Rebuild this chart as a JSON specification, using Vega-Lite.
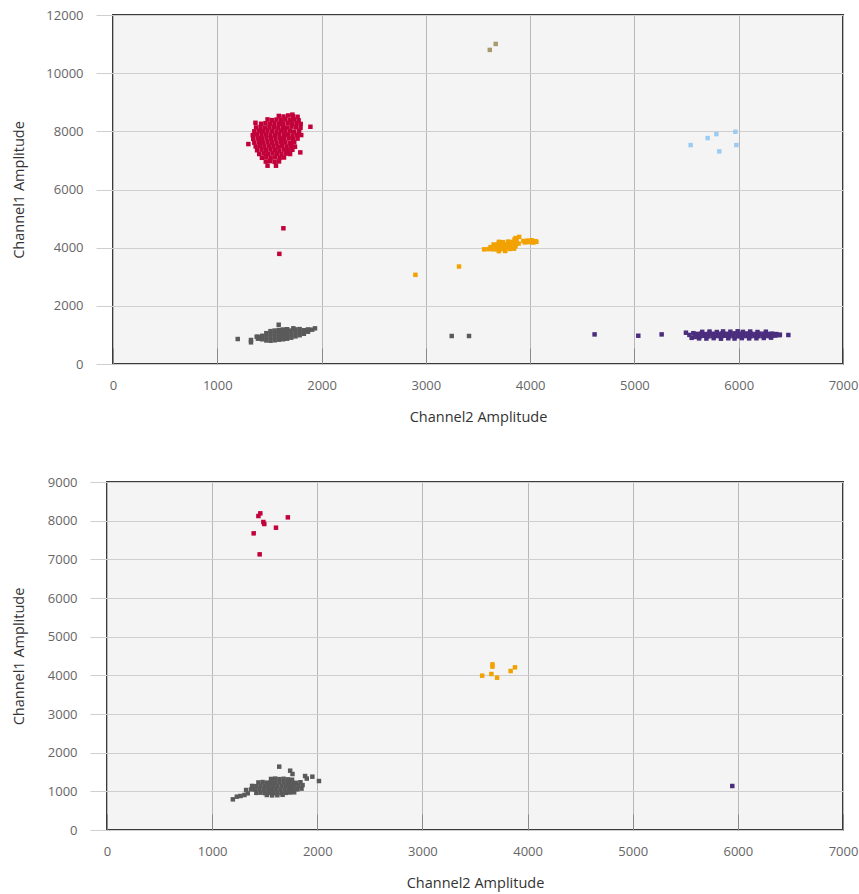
{
"$schema": "https://vega.github.io/schema/vega-lite/v6.json",
"background": "white",
"padding": {"left": 9, "top": 8, "right": 0, "bottom": 2},
"config": {
  "view": {"fill": "#f4f4f4", "stroke": "#3a3a3a", "strokeWidth": 2},
  "axis": {"labelFont": "Open Sans", "titleFont": "Open Sans", "labelFontSize": 13, "titleFontSize": 14.5, "labelColor": "#666666", "titleColor": "#333333", "titleFontWeight": "normal", "gridWidth": 1, "labelFlush": false, "labelOverlap": false, "domain": false, "format": "d"}
},
"datasets": {
"top": [
{"x":1590,"y":8530,"c":"red"},{"x":1635,"y":8510,"c":"red"},{"x":1680,"y":8545,"c":"red"},{"x":1725,"y":8520,"c":"red"},{"x":1770,"y":8500,"c":"red"},
{"x":1482,"y":8410,"c":"red"},{"x":1525,"y":8385,"c":"red"},{"x":1568,"y":8405,"c":"red"},{"x":1610,"y":8395,"c":"red"},{"x":1652,"y":8415,"c":"red"},{"x":1695,"y":8390,"c":"red"},{"x":1738,"y":8405,"c":"red"},{"x":1780,"y":8380,"c":"red"},
{"x":1420,"y":8260,"c":"red"},{"x":1462,"y":8280,"c":"red"},{"x":1505,"y":8265,"c":"red"},{"x":1548,"y":8285,"c":"red"},{"x":1590,"y":8260,"c":"red"},{"x":1632,"y":8275,"c":"red"},{"x":1675,"y":8290,"c":"red"},{"x":1718,"y":8265,"c":"red"},{"x":1760,"y":8280,"c":"red"},{"x":1800,"y":8255,"c":"red"},
{"x":1372,"y":8135,"c":"red"},{"x":1415,"y":8150,"c":"red"},{"x":1458,"y":8130,"c":"red"},{"x":1500,"y":8155,"c":"red"},{"x":1542,"y":8140,"c":"red"},{"x":1585,"y":8125,"c":"red"},{"x":1628,"y":8150,"c":"red"},{"x":1670,"y":8135,"c":"red"},{"x":1712,"y":8160,"c":"red"},{"x":1755,"y":8140,"c":"red"},{"x":1798,"y":8120,"c":"red"},
{"x":1355,"y":8000,"c":"red"},{"x":1398,"y":8020,"c":"red"},{"x":1440,"y":8005,"c":"red"},{"x":1482,"y":8025,"c":"red"},{"x":1525,"y":8010,"c":"red"},{"x":1568,"y":7995,"c":"red"},{"x":1610,"y":8020,"c":"red"},{"x":1652,"y":8005,"c":"red"},{"x":1695,"y":8015,"c":"red"},{"x":1738,"y":7990,"c":"red"},{"x":1785,"y":8010,"c":"red"},
{"x":1340,"y":7870,"c":"red"},{"x":1383,"y":7890,"c":"red"},{"x":1425,"y":7875,"c":"red"},{"x":1468,"y":7895,"c":"red"},{"x":1510,"y":7880,"c":"red"},{"x":1552,"y":7865,"c":"red"},{"x":1595,"y":7890,"c":"red"},{"x":1638,"y":7875,"c":"red"},{"x":1680,"y":7885,"c":"red"},{"x":1722,"y":7860,"c":"red"},{"x":1765,"y":7880,"c":"red"},{"x":1805,"y":7870,"c":"red"},
{"x":1345,"y":7740,"c":"red"},{"x":1388,"y":7760,"c":"red"},{"x":1430,"y":7745,"c":"red"},{"x":1472,"y":7765,"c":"red"},{"x":1515,"y":7750,"c":"red"},{"x":1558,"y":7735,"c":"red"},{"x":1600,"y":7760,"c":"red"},{"x":1642,"y":7745,"c":"red"},{"x":1685,"y":7755,"c":"red"},{"x":1728,"y":7730,"c":"red"},{"x":1770,"y":7750,"c":"red"},
{"x":1355,"y":7610,"c":"red"},{"x":1398,"y":7630,"c":"red"},{"x":1440,"y":7615,"c":"red"},{"x":1482,"y":7635,"c":"red"},{"x":1525,"y":7620,"c":"red"},{"x":1568,"y":7605,"c":"red"},{"x":1610,"y":7630,"c":"red"},{"x":1652,"y":7615,"c":"red"},{"x":1695,"y":7600,"c":"red"},{"x":1738,"y":7620,"c":"red"},
{"x":1368,"y":7480,"c":"red"},{"x":1410,"y":7500,"c":"red"},{"x":1452,"y":7485,"c":"red"},{"x":1495,"y":7505,"c":"red"},{"x":1538,"y":7490,"c":"red"},{"x":1580,"y":7475,"c":"red"},{"x":1622,"y":7500,"c":"red"},{"x":1665,"y":7480,"c":"red"},{"x":1708,"y":7495,"c":"red"},{"x":1745,"y":7470,"c":"red"},
{"x":1382,"y":7350,"c":"red"},{"x":1425,"y":7370,"c":"red"},{"x":1468,"y":7355,"c":"red"},{"x":1510,"y":7375,"c":"red"},{"x":1552,"y":7360,"c":"red"},{"x":1595,"y":7345,"c":"red"},{"x":1638,"y":7370,"c":"red"},{"x":1680,"y":7350,"c":"red"},{"x":1720,"y":7365,"c":"red"},
{"x":1402,"y":7220,"c":"red"},{"x":1445,"y":7240,"c":"red"},{"x":1488,"y":7225,"c":"red"},{"x":1530,"y":7245,"c":"red"},{"x":1572,"y":7230,"c":"red"},{"x":1615,"y":7215,"c":"red"},{"x":1658,"y":7235,"c":"red"},{"x":1698,"y":7220,"c":"red"},
{"x":1428,"y":7090,"c":"red"},{"x":1470,"y":7110,"c":"red"},{"x":1512,"y":7095,"c":"red"},{"x":1555,"y":7105,"c":"red"},{"x":1598,"y":7085,"c":"red"},{"x":1640,"y":7100,"c":"red"},
{"x":1465,"y":6960,"c":"red"},{"x":1508,"y":6975,"c":"red"},{"x":1550,"y":6950,"c":"red"},{"x":1592,"y":6965,"c":"red"},
{"x":1482,"y":6818,"c":"red"},{"x":1563,"y":6818,"c":"red"},{"x":1796,"y":7276,"c":"red"},{"x":1893,"y":8157,"c":"red"},{"x":1298,"y":7562,"c":"red"},{"x":1366,"y":8294,"c":"red"},{"x":1720,"y":8575,"c":"red"},
{"x":1634,"y":4667,"c":"red"},{"x":1595,"y":3787,"c":"red"},
{"x":1390,"y":870,"c":"gray"},{"x":1390,"y":930,"c":"gray"},
{"x":1430,"y":850,"c":"gray"},{"x":1430,"y":970,"c":"gray"},
{"x":1470,"y":810,"c":"gray"},{"x":1470,"y":935,"c":"gray"},{"x":1470,"y":1060,"c":"gray"},
{"x":1510,"y":800,"c":"gray"},{"x":1510,"y":925,"c":"gray"},{"x":1510,"y":1050,"c":"gray"},{"x":1510,"y":1130,"c":"gray"},
{"x":1550,"y":815,"c":"gray"},{"x":1550,"y":940,"c":"gray"},{"x":1550,"y":1065,"c":"gray"},{"x":1550,"y":1150,"c":"gray"},
{"x":1590,"y":835,"c":"gray"},{"x":1590,"y":960,"c":"gray"},{"x":1590,"y":1085,"c":"gray"},{"x":1590,"y":1170,"c":"gray"},
{"x":1630,"y":850,"c":"gray"},{"x":1630,"y":975,"c":"gray"},{"x":1630,"y":1100,"c":"gray"},{"x":1630,"y":1185,"c":"gray"},
{"x":1670,"y":870,"c":"gray"},{"x":1670,"y":995,"c":"gray"},{"x":1670,"y":1120,"c":"gray"},{"x":1670,"y":1195,"c":"gray"},
{"x":1710,"y":905,"c":"gray"},{"x":1710,"y":1030,"c":"gray"},{"x":1710,"y":1150,"c":"gray"},
{"x":1750,"y":950,"c":"gray"},{"x":1750,"y":1075,"c":"gray"},{"x":1750,"y":1190,"c":"gray"},
{"x":1790,"y":990,"c":"gray"},{"x":1790,"y":1110,"c":"gray"},{"x":1790,"y":1200,"c":"gray"},
{"x":1830,"y":1040,"c":"gray"},{"x":1830,"y":1160,"c":"gray"},
{"x":1870,"y":1110,"c":"gray"},{"x":1870,"y":1190,"c":"gray"},
{"x":1589,"y":1350,"c":"gray"},{"x":1196,"y":859,"c":"gray"},{"x":1323,"y":825,"c":"gray"},{"x":1323,"y":745,"c":"gray"},{"x":1729,"y":1227,"c":"gray"},{"x":1910,"y":1180,"c":"gray"},{"x":1937,"y":1226,"c":"gray"},{"x":1378,"y":940,"c":"gray"},
{"x":3248,"y":963,"c":"gray"},{"x":3414,"y":963,"c":"gray"},
{"x":3613,"y":10800,"c":"tan"},{"x":3670,"y":11005,"c":"tan"},
{"x":5539,"y":7528,"c":"blue"},{"x":5702,"y":7768,"c":"blue"},{"x":5786,"y":7905,"c":"blue"},{"x":5968,"y":7985,"c":"blue"},{"x":5978,"y":7528,"c":"blue"},{"x":5814,"y":7310,"c":"blue"},
{"x":3860,"y":4330,"c":"orange"},{"x":3895,"y":4370,"c":"orange"},{"x":3850,"y":4280,"c":"orange"},
{"x":3935,"y":4230,"c":"orange"},{"x":3975,"y":4245,"c":"orange"},{"x":4015,"y":4255,"c":"orange"},{"x":4050,"y":4225,"c":"orange"},{"x":3950,"y":4180,"c":"orange"},{"x":3990,"y":4190,"c":"orange"},{"x":4030,"y":4175,"c":"orange"},{"x":4060,"y":4200,"c":"orange"},
{"x":3700,"y":4200,"c":"orange"},{"x":3740,"y":4190,"c":"orange"},{"x":3790,"y":4210,"c":"orange"},{"x":3830,"y":4195,"c":"orange"},{"x":3870,"y":4220,"c":"orange"},
{"x":3650,"y":4110,"c":"orange"},{"x":3690,"y":4120,"c":"orange"},{"x":3730,"y":4100,"c":"orange"},{"x":3770,"y":4115,"c":"orange"},{"x":3810,"y":4105,"c":"orange"},{"x":3850,"y":4125,"c":"orange"},{"x":3890,"y":4140,"c":"orange"},
{"x":3620,"y":4020,"c":"orange"},{"x":3660,"y":4030,"c":"orange"},{"x":3700,"y":4015,"c":"orange"},{"x":3740,"y":4035,"c":"orange"},{"x":3780,"y":4020,"c":"orange"},{"x":3820,"y":4030,"c":"orange"},{"x":3860,"y":4045,"c":"orange"},
{"x":3559,"y":3943,"c":"orange"},{"x":3600,"y":3950,"c":"orange"},{"x":3640,"y":3945,"c":"orange"},{"x":3680,"y":3940,"c":"orange"},{"x":3720,"y":3950,"c":"orange"},{"x":3760,"y":3935,"c":"orange"},{"x":3805,"y":3955,"c":"orange"},{"x":3845,"y":3965,"c":"orange"},
{"x":3700,"y":3880,"c":"orange"},{"x":3760,"y":3885,"c":"orange"},
{"x":3318,"y":3352,"c":"orange"},{"x":2900,"y":3066,"c":"orange"},
{"x":5650,"y":1105,"c":"purple"},{"x":5720,"y":1115,"c":"purple"},{"x":5790,"y":1100,"c":"purple"},{"x":5850,"y":1120,"c":"purple"},{"x":5920,"y":1110,"c":"purple"},{"x":5990,"y":1125,"c":"purple"},{"x":6040,"y":1105,"c":"purple"},{"x":6110,"y":1115,"c":"purple"},{"x":6180,"y":1100,"c":"purple"},{"x":6260,"y":1110,"c":"purple"},
{"x":5600,"y":1035,"c":"purple"},{"x":5640,"y":1045,"c":"purple"},{"x":5680,"y":1030,"c":"purple"},{"x":5720,"y":1050,"c":"purple"},{"x":5760,"y":1040,"c":"purple"},{"x":5800,"y":1035,"c":"purple"},{"x":5840,"y":1050,"c":"purple"},{"x":5880,"y":1040,"c":"purple"},{"x":5920,"y":1030,"c":"purple"},{"x":5960,"y":1055,"c":"purple"},{"x":6000,"y":1045,"c":"purple"},{"x":6040,"y":1035,"c":"purple"},{"x":6080,"y":1050,"c":"purple"},{"x":6120,"y":1040,"c":"purple"},{"x":6160,"y":1030,"c":"purple"},{"x":6200,"y":1045,"c":"purple"},{"x":6240,"y":1040,"c":"purple"},{"x":6280,"y":1035,"c":"purple"},{"x":6320,"y":1045,"c":"purple"},{"x":6360,"y":1030,"c":"purple"},{"x":6395,"y":1010,"c":"purple"},
{"x":5590,"y":965,"c":"purple"},{"x":5630,"y":955,"c":"purple"},{"x":5670,"y":970,"c":"purple"},{"x":5710,"y":950,"c":"purple"},{"x":5750,"y":965,"c":"purple"},{"x":5790,"y":960,"c":"purple"},{"x":5830,"y":950,"c":"purple"},{"x":5870,"y":970,"c":"purple"},{"x":5910,"y":955,"c":"purple"},{"x":5950,"y":965,"c":"purple"},{"x":5990,"y":950,"c":"purple"},{"x":6030,"y":970,"c":"purple"},{"x":6070,"y":960,"c":"purple"},{"x":6110,"y":950,"c":"purple"},{"x":6150,"y":965,"c":"purple"},{"x":6190,"y":955,"c":"purple"},{"x":6230,"y":970,"c":"purple"},{"x":6270,"y":960,"c":"purple"},{"x":6310,"y":950,"c":"purple"},{"x":6350,"y":975,"c":"purple"},{"x":6390,"y":990,"c":"purple"},
{"x":5620,"y":880,"c":"purple"},{"x":5690,"y":875,"c":"purple"},{"x":5760,"y":890,"c":"purple"},{"x":5830,"y":870,"c":"purple"},{"x":5900,"y":885,"c":"purple"},{"x":5960,"y":875,"c":"purple"},{"x":6030,"y":890,"c":"purple"},{"x":6100,"y":880,"c":"purple"},{"x":6170,"y":885,"c":"purple"},{"x":6240,"y":895,"c":"purple"},{"x":6310,"y":905,"c":"purple"},
{"x":5494,"y":1076,"c":"purple"},{"x":5527,"y":1000,"c":"purple"},{"x":5549,"y":900,"c":"purple"},{"x":5565,"y":1060,"c":"purple"},{"x":5580,"y":930,"c":"purple"},
{"x":4618,"y":1018,"c":"purple"},{"x":5037,"y":972,"c":"purple"},{"x":5261,"y":1018,"c":"purple"},{"x":6476,"y":997,"c":"purple"}
],
"bot": [
{"x":1452,"y":7129,"c":"red"},{"x":1395,"y":7672,"c":"red"},{"x":1440,"y":8120,"c":"red"},{"x":1458,"y":8189,"c":"red"},{"x":1487,"y":7965,"c":"red"},{"x":1496,"y":7913,"c":"red"},{"x":1607,"y":7818,"c":"red"},{"x":1720,"y":8086,"c":"red"},
{"x":3568,"y":3991,"c":"orange"},{"x":3666,"y":4284,"c":"orange"},{"x":3666,"y":4224,"c":"orange"},{"x":3656,"y":4034,"c":"orange"},{"x":3710,"y":3939,"c":"orange"},{"x":3839,"y":4112,"c":"orange"},{"x":3880,"y":4207,"c":"orange"},
{"x":5947,"y":1138,"c":"purple"},
{"x":1560,"y":1320,"c":"gray"},{"x":1600,"y":1330,"c":"gray"},{"x":1640,"y":1315,"c":"gray"},{"x":1680,"y":1325,"c":"gray"},{"x":1720,"y":1310,"c":"gray"},{"x":1760,"y":1300,"c":"gray"},
{"x":1440,"y":1230,"c":"gray"},{"x":1480,"y":1240,"c":"gray"},{"x":1520,"y":1225,"c":"gray"},{"x":1560,"y":1235,"c":"gray"},{"x":1600,"y":1230,"c":"gray"},{"x":1640,"y":1240,"c":"gray"},{"x":1680,"y":1225,"c":"gray"},{"x":1720,"y":1235,"c":"gray"},{"x":1760,"y":1230,"c":"gray"},{"x":1800,"y":1220,"c":"gray"},{"x":1840,"y":1235,"c":"gray"},
{"x":1380,"y":1140,"c":"gray"},{"x":1420,"y":1135,"c":"gray"},{"x":1460,"y":1145,"c":"gray"},{"x":1500,"y":1140,"c":"gray"},{"x":1540,"y":1150,"c":"gray"},{"x":1580,"y":1135,"c":"gray"},{"x":1620,"y":1145,"c":"gray"},{"x":1660,"y":1140,"c":"gray"},{"x":1700,"y":1150,"c":"gray"},{"x":1740,"y":1135,"c":"gray"},{"x":1780,"y":1145,"c":"gray"},{"x":1820,"y":1140,"c":"gray"},{"x":1860,"y":1160,"c":"gray"},
{"x":1370,"y":1050,"c":"gray"},{"x":1410,"y":1045,"c":"gray"},{"x":1450,"y":1055,"c":"gray"},{"x":1490,"y":1050,"c":"gray"},{"x":1530,"y":1060,"c":"gray"},{"x":1570,"y":1045,"c":"gray"},{"x":1610,"y":1055,"c":"gray"},{"x":1650,"y":1050,"c":"gray"},{"x":1690,"y":1060,"c":"gray"},{"x":1730,"y":1045,"c":"gray"},{"x":1770,"y":1055,"c":"gray"},{"x":1810,"y":1050,"c":"gray"},{"x":1850,"y":1070,"c":"gray"},
{"x":1420,"y":960,"c":"gray"},{"x":1460,"y":965,"c":"gray"},{"x":1500,"y":955,"c":"gray"},{"x":1540,"y":960,"c":"gray"},{"x":1580,"y":950,"c":"gray"},{"x":1620,"y":965,"c":"gray"},{"x":1660,"y":955,"c":"gray"},{"x":1700,"y":960,"c":"gray"},{"x":1740,"y":970,"c":"gray"},{"x":1780,"y":975,"c":"gray"},
{"x":1520,"y":905,"c":"gray"},{"x":1570,"y":895,"c":"gray"},{"x":1620,"y":900,"c":"gray"},{"x":1670,"y":910,"c":"gray"},
{"x":1638,"y":1638,"c":"gray"},{"x":1742,"y":1534,"c":"gray"},{"x":1764,"y":1448,"c":"gray"},{"x":1884,"y":1396,"c":"gray"},{"x":1953,"y":1379,"c":"gray"},{"x":2016,"y":1267,"c":"gray"},{"x":1900,"y":1330,"c":"gray"},
{"x":1197,"y":793,"c":"gray"},{"x":1235,"y":862,"c":"gray"},{"x":1307,"y":905,"c":"gray"},{"x":1339,"y":948,"c":"gray"},{"x":1323,"y":1034,"c":"gray"},{"x":1270,"y":880,"c":"gray"}
]
},
"vconcat": [
{"spacing": 0, "hconcat": [
{"width": 1, "height": 1, "data": {"values": []}, "mark": {"type": "point", "opacity": 0}, "view": {"stroke": null, "fill": null}},
{
  "width": 730, "height": 349,
  "data": {"name": "top"},
  "mark": {"type": "point", "shape": "square", "filled": true, "size": 20, "opacity": 1},
  "encoding": {
    "x": {"field": "x", "type": "quantitative", "scale": {"domain": [0, 7000], "nice": false, "zero": false},
      "axis": {"title": "Channel2 Amplitude", "values": [0,1000,2000,3000,4000,5000,6000,7000], "gridColor": "#b8b8b8", "tickSize": -16, "tickColor": "#8a8a8a", "labelPadding": 31, "titlePadding": 18}},
    "y": {"field": "y", "type": "quantitative", "scale": {"domain": [0, 12000], "nice": false, "zero": false},
      "axis": {"title": "Channel1 Amplitude", "values": [0,2000,4000,6000,8000,10000,12000], "gridColor": "#cfcfcf", "tickSize": 17, "tickColor": "#cfcfcf", "labelPadding": 13, "titlePadding": 19}},
    "color": {"field": "c", "type": "nominal", "legend": null,
      "scale": {"domain": ["red","gray","purple","orange","blue","tan"], "range": ["#c2003a","#5a5a5a","#4b2d7e","#f2a200","#9ecbf0","#a89a6c"]}}
  }
}
]},
{"spacing": 0, "hconcat": [
{"width": 1, "height": 1, "data": {"values": []}, "mark": {"type": "point", "opacity": 0}, "view": {"stroke": null, "fill": null}},
{
  "width": 736, "height": 348,
  "data": {"name": "bot"},
  "mark": {"type": "point", "shape": "square", "filled": true, "size": 20, "opacity": 1},
  "encoding": {
    "x": {"field": "x", "type": "quantitative", "scale": {"domain": [0, 7000], "nice": false, "zero": false},
      "axis": {"title": "Channel2 Amplitude", "values": [0,1000,2000,3000,4000,5000,6000,7000], "gridColor": "#b8b8b8", "tickSize": -16, "tickColor": "#8a8a8a", "labelPadding": 31, "titlePadding": 18}},
    "y": {"field": "y", "type": "quantitative", "scale": {"domain": [0, 9000], "nice": false, "zero": false},
      "axis": {"title": "Channel1 Amplitude", "values": [0,1000,2000,3000,4000,5000,6000,7000,8000,9000], "gridColor": "#cfcfcf", "tickSize": 17, "tickColor": "#cfcfcf", "labelPadding": 13, "titlePadding": 21}},
    "color": {"field": "c", "type": "nominal", "legend": null,
      "scale": {"domain": ["red","gray","purple","orange","blue","tan"], "range": ["#c2003a","#5a5a5a","#4b2d7e","#f2a200","#9ecbf0","#a89a6c"]}}
  }
}
]}
],
"spacing": 50,
"resolve": {"scale": {"x": "independent", "y": "independent", "color": "shared"}}
}
